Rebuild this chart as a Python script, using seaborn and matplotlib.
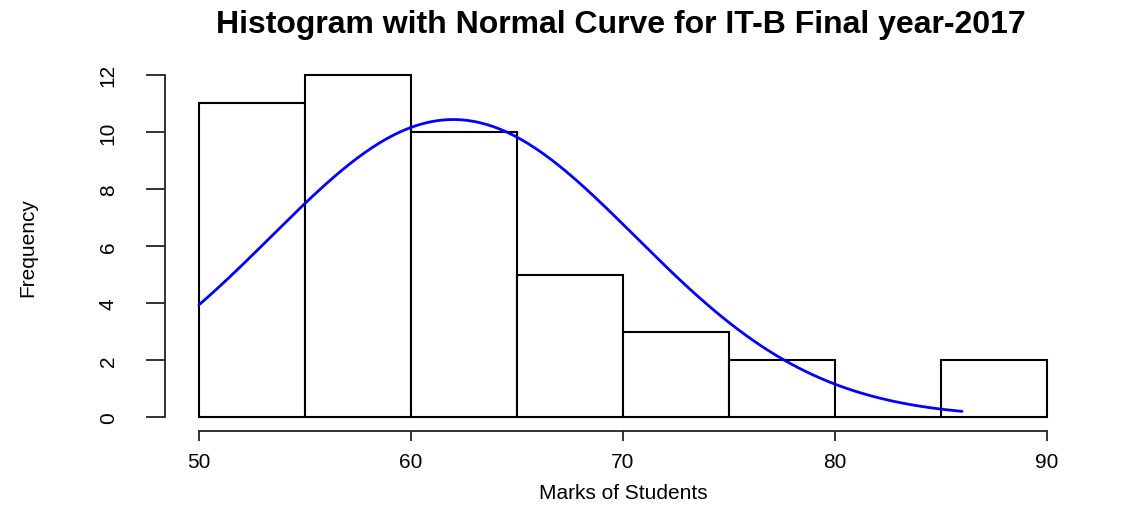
import numpy as np
import matplotlib
matplotlib.use("Agg")
import matplotlib.pyplot as plt
import seaborn as sns

# Data
bin_edges = [50, 55, 60, 65, 70, 75, 80, 85, 90]
counts = [11, 12, 10, 5, 3, 2, 0, 2]
x_ticks = [50, 60, 70, 80, 90]
y_ticks = [0, 2, 4, 6, 8, 10, 12]
n_students = 45
mark_mean = 62.0
mark_sd = 8.6
curve_min, curve_max = 50, 86

sns.set_style("white")
plt.rcParams['font.family'] = ['Liberation Sans', 'DejaVu Sans']
plt.rcParams['text.color'] = 'black'
plt.rcParams['axes.labelcolor'] = 'black'
plt.rcParams['xtick.color'] = 'black'
plt.rcParams['ytick.color'] = 'black'

fig = plt.figure(figsize=(11.4, 5.06), dpi=100)
ax = fig.add_axes([0.1447, 0.146, 0.948 - 0.1447, 0.877 - 0.146])

mids = [(a + b) / 2 for a, b in zip(bin_edges[:-1], bin_edges[1:])]
sns.histplot(x=mids, weights=counts, bins=bin_edges, ax=ax, stat="count",
             color="white", edgecolor="black", linewidth=1.5, alpha=1)

binw = bin_edges[1] - bin_edges[0]
xc = np.linspace(curve_min, curve_max, 300)
yc = n_students * binw * np.exp(-0.5 * ((xc - mark_mean) / mark_sd) ** 2) / (mark_sd * np.sqrt(2 * np.pi))
sns.lineplot(x=xc, y=yc, ax=ax, color="#0000ff", linewidth=2)

ax.set_xlim(48.4, 91.6)
ax.set_ylim(-0.48, 12.48)
for s in ["top", "right"]:
    ax.spines[s].set_visible(False)
ax.spines["left"].set_bounds(0, 12)
ax.spines["bottom"].set_bounds(50, 90)
for s in ["left", "bottom"]:
    ax.spines[s].set_linewidth(1.3)
    ax.spines[s].set_color("#222222")

ax.set_xticks(x_ticks)
ax.set_yticks(y_ticks)
ax.set_xticklabels([str(v) for v in x_ticks], fontsize=15)
ax.set_yticklabels([str(v) for v in y_ticks], fontsize=15, rotation=90, va="center")
ax.tick_params(axis="x", direction="out", length=7, width=1.3, pad=8, color="#222222", bottom=True)
ax.tick_params(axis="y", direction="out", length=14, width=1.3, pad=20, color="#222222", left=True)

ax.set_xlabel("Marks of Students", fontsize=15, labelpad=9)
ax.set_ylabel("Frequency", fontsize=15, labelpad=44)
ax.grid(False)

fig.text(0.545, 0.95, "Histogram with Normal Curve for IT-B Final year-2017",
         ha="center", va="center", fontsize=23, fontweight="bold", color="black")

fig.savefig("out.png", dpi=100, facecolor="white")
